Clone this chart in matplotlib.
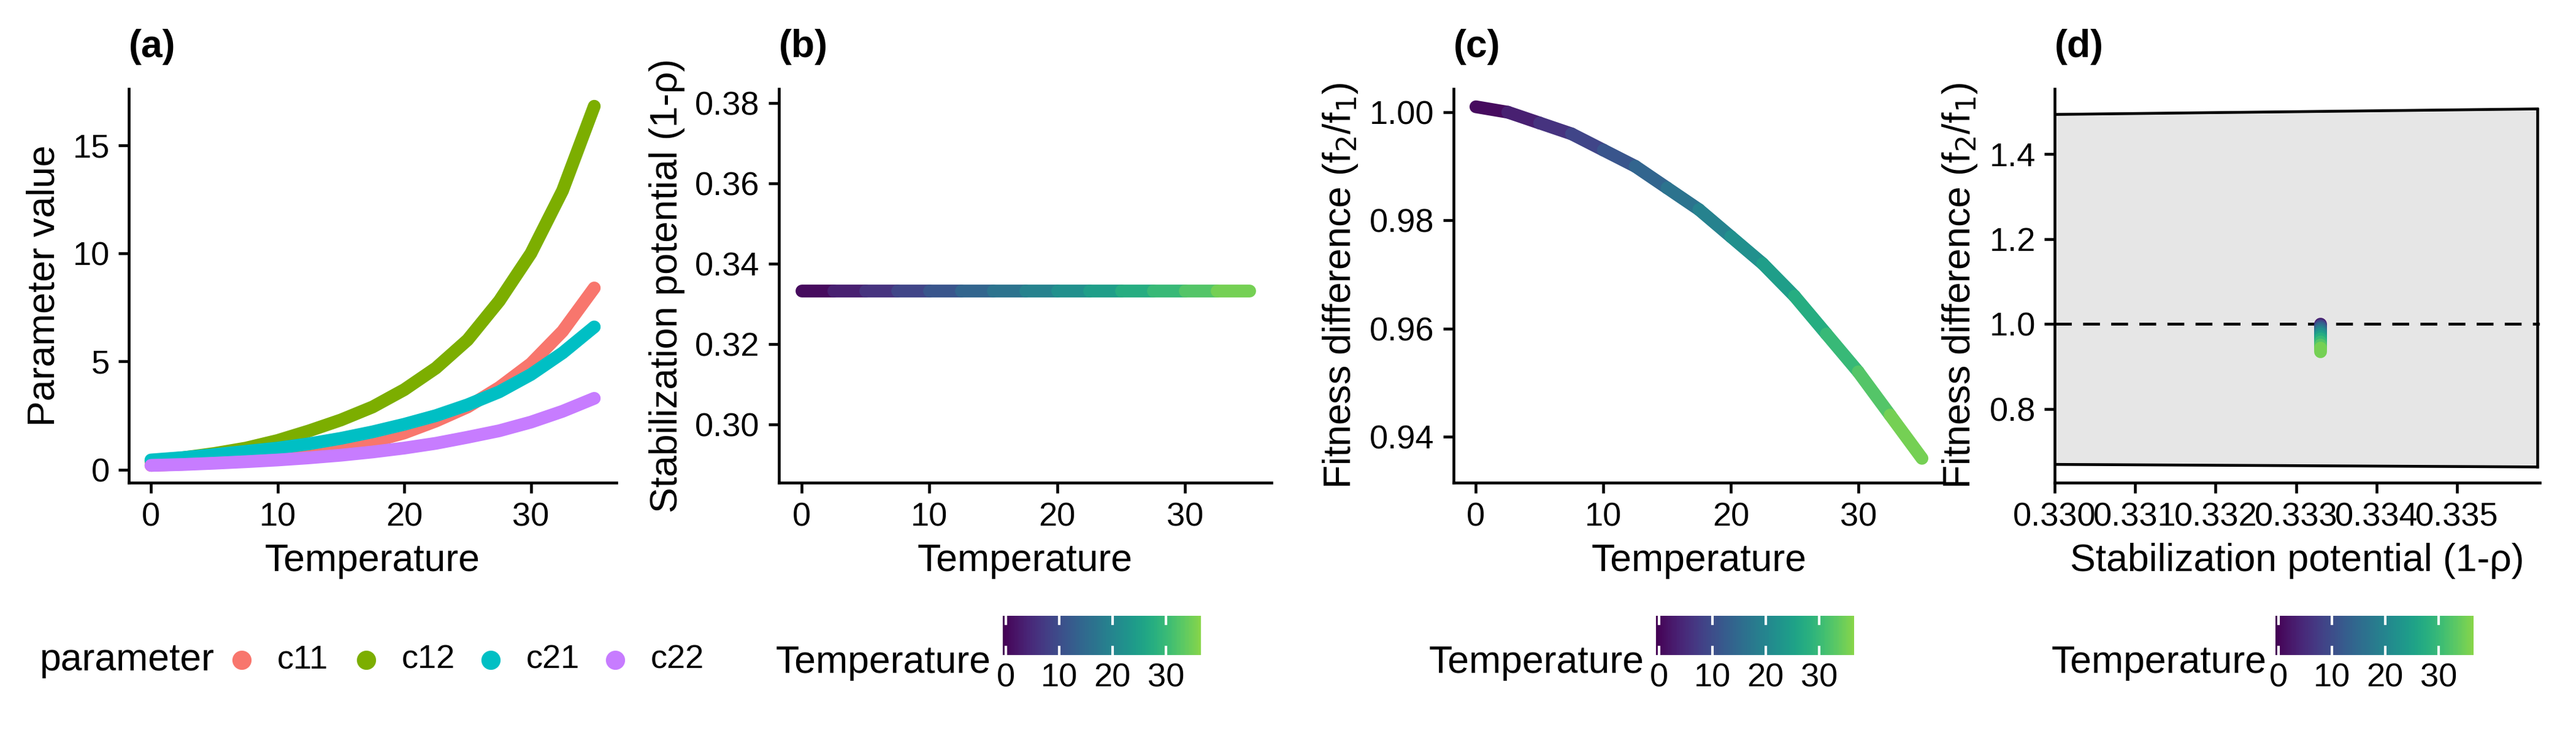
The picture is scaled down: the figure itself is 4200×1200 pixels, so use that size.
import numpy as np
import matplotlib
matplotlib.use("AGG")
import matplotlib.pyplot as plt
from matplotlib.collections import LineCollection
from matplotlib.colors import ListedColormap, Normalize

plt.rcParams['font.family'] = ['Liberation Sans', 'DejaVu Sans']

# values
temp = [0, 2.5, 5, 7.5, 10, 12.5, 15, 17.5, 20, 22.5, 25, 27.5, 30, 32.5, 35]
c11 = [0.2, 0.26, 0.34, 0.45, 0.6, 0.78, 1.0, 1.3, 1.7, 2.25, 2.9, 3.8, 4.9, 6.4, 8.4]
c12 = [0.4, 0.55, 0.75, 1.0, 1.35, 1.8, 2.3, 2.9, 3.7, 4.7, 6.0, 7.8, 10.0, 12.9, 16.8]
c21 = [0.45, 0.56, 0.7, 0.85, 1.0, 1.2, 1.45, 1.75, 2.1, 2.5, 3.0, 3.6, 4.4, 5.4, 6.6]
c22 = [0.2, 0.24, 0.3, 0.37, 0.45, 0.55, 0.67, 0.82, 1.0, 1.22, 1.5, 1.8, 2.2, 2.7, 3.3]
stab = [0.3333] * 15
fitness = [1.001, 1.000, 0.998, 0.996, 0.993, 0.990, 0.986, 0.982, 0.977, 0.972,
           0.966, 0.959, 0.952, 0.944, 0.936]
region_x = [0.330, 0.336]
region_upper = [1.493, 1.506]
region_lower = [0.670, 0.664]

param_names = ['c11', 'c12', 'c21', 'c22']
param_vals = [c11, c12, c21, c22]
param_cols = ['#F8766D', '#7CAE00', '#00BFC4', '#C77CFF']

cmap = ListedColormap(plt.get_cmap('viridis')(np.linspace(0, 0.82, 256)))
norm = Normalize(0, 35)

fig = plt.figure(figsize=(14, 4), dpi=300)
W, H = 4200, 1200
TOP, BOT = 145, 787
def axbox(x0, x1):
    return fig.add_axes([x0 / W, 1 - BOT / H, (x1 - x0) / W, (BOT - TOP) / H])

ax_a = axbox(210, 1005)
ax_b = axbox(1270, 2073)
ax_c = axbox(2370, 3170)
ax_d = axbox(3350, 4141)

for ax, lab in zip([ax_a, ax_b, ax_c, ax_d], ['(a)', '(b)', '(c)', '(d)']):
    for s in ['top', 'right']:
        ax.spines[s].set_visible(False)
    for s in ['left', 'bottom']:
        ax.spines[s].set_linewidth(1.1)
    ax.tick_params(labelsize=13, width=1.1, length=4, colors='black')
    ax.text(0, 1.06, lab, transform=ax.transAxes, fontsize=15, fontweight='bold',
            ha='left', va='bottom')

# (a)
for name, vals, col in zip(param_names, param_vals, param_cols):
    ax_a.plot(temp, vals, color=col, lw=5, solid_capstyle='round', solid_joinstyle='round')
ax_a.set_xlim(-1.75, 36.75)
ax_a.set_ylim(-0.6, 17.6)
ax_a.set_xticks([0, 10, 20, 30])
ax_a.set_yticks([0, 5, 10, 15])
ax_a.set_xlabel('Temperature', fontsize=15)
ax_a.set_ylabel('Parameter value', fontsize=15)

def grad_line(ax, x, y):
    pts = np.column_stack([x, y]).reshape(-1, 1, 2)
    segs = np.concatenate([pts[:-1], pts[1:]], axis=1)
    t = np.asarray(temp)
    lc = LineCollection(segs, cmap=cmap, norm=norm, linewidths=5, capstyle='round',
                        joinstyle='round')
    lc.set_array((t[:-1] + t[1:]) / 2)
    ax.add_collection(lc)
    return lc

# (b)
grad_line(ax_b, temp, stab)
ax_b.set_xlim(-1.75, 36.75)
ax_b.set_ylim(0.2855, 0.3835)
ax_b.set_xticks([0, 10, 20, 30])
ax_b.set_yticks([0.30, 0.32, 0.34, 0.36, 0.38])
ax_b.set_yticklabels(['0.30', '0.32', '0.34', '0.36', '0.38'])
ax_b.set_xlabel('Temperature', fontsize=15)
ax_b.set_ylabel('Stabilization potential (1-ρ)', fontsize=15)

# (c)
grad_line(ax_c, temp, fitness)
ax_c.set_xlim(-1.75, 36.75)
ax_c.set_ylim(0.9315, 1.0043)
ax_c.set_xticks([0, 10, 20, 30])
ax_c.set_yticks([0.94, 0.96, 0.98, 1.00])
ax_c.set_yticklabels(['0.94', '0.96', '0.98', '1.00'])
ax_c.set_xlabel('Temperature', fontsize=15)
ax_c.set_ylabel('Fitness difference (f$_2$/f$_1$)', fontsize=15)

# (d)
ax_d.fill_between(region_x, region_lower, region_upper, facecolor='#E6E6E6',
                  edgecolor='none')
ax_d.plot(region_x, region_upper, color='black', lw=1.1)
ax_d.plot(region_x, region_lower, color='black', lw=1.1)
ax_d.plot([region_x[1], region_x[1]], [region_lower[1], region_upper[1]], color='black', lw=1.1)
ax_d.axhline(1.0, color='black', lw=1.1, ls=(0, (6, 4)))
grad_line(ax_d, stab, fitness)
ax_d.set_xlim(0.330, 0.33603)
ax_d.set_ylim(0.627, 1.553)
ax_d.set_xticks([0.330, 0.331, 0.332, 0.333, 0.334, 0.335])
ax_d.set_xticklabels(['0.330', '0.331', '0.332', '0.333', '0.334', '0.335'])
ax_d.set_yticks([0.8, 1.0, 1.2, 1.4])
ax_d.set_xlabel('Stabilization potential (1-ρ)', fontsize=15)
ax_d.set_ylabel('Fitness difference (f$_2$/f$_1$)', fontsize=15)

# legend for (a), laid out like ggplot's bottom legend
LEG_Y = 1 - 1076 / H
fig.text(65 / W, LEG_Y, 'parameter', fontsize=15, va='center', ha='left')
for i, (name, col) in enumerate(zip(param_names, param_cols)):
    dx = 394 + i * 203
    fig.lines.append(plt.Line2D([dx / W], [LEG_Y], marker='o', color=col, markersize=6.5,
                                ls='none', transform=fig.transFigure, figure=fig))
    fig.text((dx + 58) / W, LEG_Y, name, fontsize=13, va='center', ha='left')

# colorbars
for cx0, tx in [(1635, 1265), (2700, 2330), (3710, 3345)]:
    cax = fig.add_axes([cx0 / W, 1 - 1068 / H, 323 / W, 64 / H])
    sm = plt.cm.ScalarMappable(norm=Normalize(-0.6, 36.6), cmap=cmap)
    cb = fig.colorbar(sm, cax=cax, orientation='horizontal')
    cb.outline.set_visible(False)
    cb.set_ticks([0, 10, 20, 30])
    cax.tick_params(labelsize=13, length=0, pad=3)
    for t in [0, 10, 20, 30]:
        cax.axvline(t, ymin=0, ymax=0.2, color='white', lw=1)
        cax.axvline(t, ymin=0.8, ymax=1, color='white', lw=1)
    fig.text(tx / W, 1 - 1080 / H, 'Temperature', fontsize=15, va='center', ha='left')

fig.savefig('out.png', dpi=300)
